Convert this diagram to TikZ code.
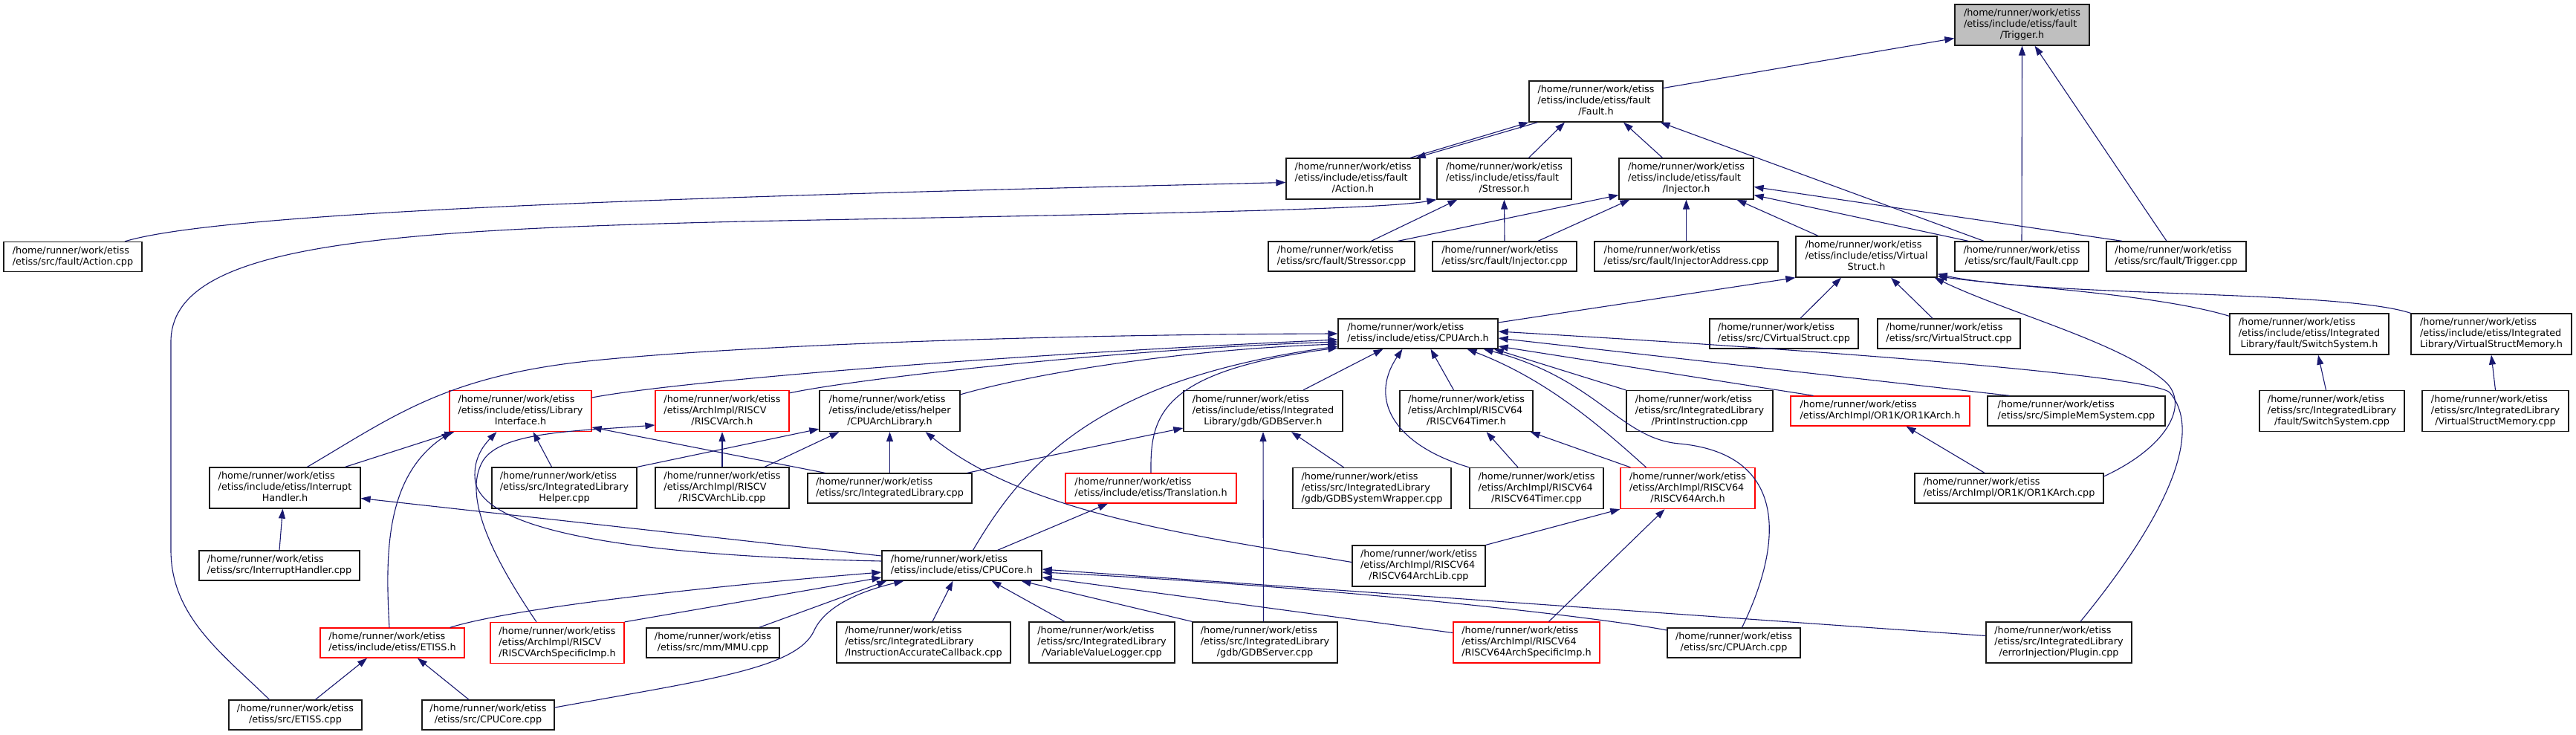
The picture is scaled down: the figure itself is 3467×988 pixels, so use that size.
\documentclass[tikz,border=0pt]{standalone}
\usepackage{fontspec}
\setmainfont{DejaVu Sans}
\usetikzlibrary{arrows.meta, positioning}
\definecolor{edgeblue}{HTML}{191970}
\definecolor{curgray}{HTML}{BFBFBF}
\newcommand{\twoline}[1]{\begin{tabular}{@{}l@{}}/home/runner/work/etiss\\\multicolumn{1}{@{}c@{}}{#1}\end{tabular}}
\newcommand{\threeline}[2]{\begin{tabular}{@{}l@{}}/home/runner/work/etiss\\#1\\\multicolumn{1}{@{}c@{}}{#2}\end{tabular}}

\begin{document}
\begin{tikzpicture}[x=1pt, y=-1pt,
  file/.style={draw=black!90, line width=1.3pt, fill=white, inner sep=0pt, font=\fontsize{12.8}{15}\selectfont},
  trunc/.style={file, draw=red},
  cur/.style={file, fill=curgray},
  sz/.style 2 args={minimum width=#1pt, minimum height=#2pt},
  dep/.style={draw=edgeblue, line width=1.1pt, -{Triangle[length=13pt, width=9pt]}}]
  \path[fill=white, use as bounding box] (0,0) rectangle (3467,988);
  % fault headers
  \node[cur, sz={181}{55}] (trig) at (2721.5,33.5) {\threeline{/etiss/include/etiss/fault}{/Trigger.h}};
  \node[file, sz={180}{55}] (fault) at (2148,136.5) {\threeline{/etiss/include/etiss/fault}{/Fault.h}};
  \node[file, sz={180}{55}] (action) at (1821,240.5) {\threeline{/etiss/include/etiss/fault}{/Action.h}};
  \node[file, sz={181}{55}] (stressor) at (2024.5,240.5) {\threeline{/etiss/include/etiss/fault}{/Stressor.h}};
  \node[file, sz={181}{55}] (injector) at (2269.5,240.5) {\threeline{/etiss/include/etiss/fault}{/Injector.h}};
  \node[file, sz={186}{40}] (actioncpp) at (98,345.5) {\twoline{/etiss/src/fault/Action.cpp}};
  \node[file, sz={197}{40}] (stressorcpp) at (1805.5,345) {\twoline{/etiss/src/fault/Stressor.cpp}};
  \node[file, sz={194}{40}] (injectorcpp) at (2025,345) {\twoline{/etiss/src/fault/Injector.cpp}};
  \node[file, sz={247}{40}] (injaddr) at (2269.5,345) {\twoline{/etiss/src/fault/InjectorAddress.cpp}};
  \node[file, sz={190}{55}] (vstruct) at (2512,345.5) {\threeline{/etiss/include/etiss/Virtual}{Struct.h}};
  \node[file, sz={180}{40}] (faultcpp) at (2721,345) {\twoline{/etiss/src/fault/Fault.cpp}};
  \node[file, sz={188}{40}] (trigcpp) at (2929,345) {\twoline{/etiss/src/fault/Trigger.cpp}};
  % arch and library headers
  \node[file, sz={215}{40}] (cpuarch) at (1908.5,449) {\twoline{/etiss/include/etiss/CPUArch.h}};
  \node[file, sz={200}{40}] (cvs) at (2401,449) {\twoline{/etiss/src/CVirtualStruct.cpp}};
  \node[file, sz={192}{40}] (vscpp) at (2623,449) {\twoline{/etiss/src/VirtualStruct.cpp}};
  \node[file, sz={214}{55}] (switchh) at (3108,449.5) {\threeline{/etiss/include/etiss/Integrated}{Library/fault/SwitchSystem.h}};
  \node[file, sz={216}{55}] (vsmem) at (3353,449.5) {\threeline{/etiss/include/etiss/Integrated}{Library/VirtualStructMemory.h}};
  \node[trunc, sz={191}{55}] (libif) at (700.5,553) {\threeline{/etiss/include/etiss/Library}{Interface.h}};
  \node[trunc, sz={180}{55}] (riscvarch) at (972,553) {\threeline{/etiss/ArchImpl/RISCV}{/RISCVArch.h}};
  \node[file, sz={189}{55}] (cpuarchlib) at (1197.5,553) {\threeline{/etiss/include/etiss/helper}{/CPUArchLibrary.h}};
  \node[file, sz={214}{55}] (gdbserverh) at (1700,553) {\threeline{/etiss/include/etiss/Integrated}{Library/gdb/GDBServer.h}};
  \node[file, sz={179}{55}] (rv64timer) at (1973.5,553) {\threeline{/etiss/ArchImpl/RISCV64}{/RISCV64Timer.h}};
  \node[file, sz={197}{55}] (printinst) at (2287.5,553) {\threeline{/etiss/src/IntegratedLibrary}{/PrintInstruction.cpp}};
  \node[trunc, sz={241}{40}] (or1karch) at (2530.5,553) {\twoline{/etiss/ArchImpl/OR1K/OR1KArch.h}};
  \node[file, sz={239}{40}] (simplemem) at (2794.5,553) {\twoline{/etiss/src/SimpleMemSystem.cpp}};
  \node[file, sz={195}{55}] (switchcpp) at (3138.5,553) {\threeline{/etiss/src/IntegratedLibrary}{/fault/SwitchSystem.cpp}};
  \node[file, sz={197}{55}] (vsmemcpp) at (3358.5,553) {\threeline{/etiss/src/IntegratedLibrary}{/VirtualStructMemory.cpp}};
  \node[file, sz={203}{55}] (inth) at (383.5,656.5) {\threeline{/etiss/include/etiss/Interrupt}{Handler.h}};
  \node[file, sz={195}{55}] (libhelper) at (759.5,656.5) {\threeline{/etiss/src/IntegratedLibrary}{Helper.cpp}};
  \node[file, sz={180}{55}] (rvarchlib) at (972,656.5) {\threeline{/etiss/ArchImpl/RISCV}{/RISCVArchLib.cpp}};
  \node[file, sz={221}{40}] (intlibcpp) at (1197.5,657) {\twoline{/etiss/src/IntegratedLibrary.cpp}};
  \node[trunc, sz={230}{40}] (translation) at (1549,657) {\twoline{/etiss/include/etiss/Translation.h}};
  \node[file, sz={213}{55}] (gdbsyswrap) at (1846.5,657) {\threeline{/etiss/src/IntegratedLibrary}{/gdb/GDBSystemWrapper.cpp}};
  \node[file, sz={180}{55}] (rv64timercpp) at (2068,657) {\threeline{/etiss/ArchImpl/RISCV64}{/RISCV64Timer.cpp}};
  \node[trunc, sz={181}{55}] (rv64arch) at (2271.5,657) {\threeline{/etiss/ArchImpl/RISCV64}{/RISCV64Arch.h}};
  \node[file, sz={254}{40}] (or1kcpp) at (2704,657) {\twoline{/etiss/ArchImpl/OR1K/OR1KArch.cpp}};
  % core and sources
  \node[file, sz={216}{40}] (inthcpp) at (376,761) {\twoline{/etiss/src/InterruptHandler.cpp}};
  \node[file, sz={215}{40}] (cpucore) at (1294.5,761) {\twoline{/etiss/include/etiss/CPUCore.h}};
  \node[file, sz={179}{55}] (rv64archlib) at (1909.5,761.5) {\threeline{/etiss/ArchImpl/RISCV64}{/RISCV64ArchLib.cpp}};
  \node[trunc, sz={194}{40}] (etissh) at (528,865) {\twoline{/etiss/include/etiss/ETISS.h}};
  \node[trunc, sz={180}{55}] (rvspec) at (750,865) {\threeline{/etiss/ArchImpl/RISCV}{/RISCVArchSpecificImp.h}};
  \node[file, sz={179}{40}] (mmu) at (959.5,865) {\twoline{/etiss/src/mm/MMU.cpp}};
  \node[file, sz={234}{55}] (iacb) at (1243,864.5) {\threeline{/etiss/src/IntegratedLibrary}{/InstructionAccurateCallback.cpp}};
  \node[file, sz={196}{55}] (vvl) at (1483,864.5) {\threeline{/etiss/src/IntegratedLibrary}{/VariableValueLogger.cpp}};
  \node[file, sz={195}{55}] (gdbservercpp) at (1702.5,864.5) {\threeline{/etiss/src/IntegratedLibrary}{/gdb/GDBServer.cpp}};
  \node[trunc, sz={197}{55}] (rv64spec) at (2054.5,864.5) {\threeline{/etiss/ArchImpl/RISCV64}{/RISCV64ArchSpecificImp.h}};
  \node[file, sz={179}{40}] (cpuarchcpp) at (2333.5,865) {\twoline{/etiss/src/CPUArch.cpp}};
  \node[file, sz={196}{55}] (plugin) at (2771,864.5) {\threeline{/etiss/src/IntegratedLibrary}{/errorInjection/Plugin.cpp}};
  \node[file, sz={179}{40}] (etisscpp) at (397.5,962) {\twoline{/etiss/src/ETISS.cpp}};
  \node[file, sz={178}{40}] (cpucorecpp) at (657,962) {\twoline{/etiss/src/CPUCore.cpp}};

  % includes of the fault headers
  \draw[dep] ([yshift=18]fault.east) -- ([yshift=-18]trig.west);
  \draw[dep] (faultcpp.north) -- (trig.south);
  \draw[dep] ([xshift=-13]trigcpp.north) -- ([xshift=17]trig.south);
  \draw[dep] ([xshift=77]action.north) -- (fault.south west);
  \draw[dep] ([xshift=12]fault.south west) -- ([xshift=-6]action.north east);
  \draw[dep] ([xshift=33]stressor.north) -- ([xshift=-42]fault.south);
  \draw[dep] ([xshift=-32]injector.north) -- ([xshift=37]fault.south);
  \draw[dep] ([xshift=-51]faultcpp.north) -- ([xshift=-4]fault.south east);
  \draw[dep] ([xshift=70]actioncpp.north) .. controls (300,285) and (900,265) .. ([yshift=-5]action.west);
  \draw[dep] ([xshift=40]stressorcpp.north) -- ([xshift=-63]stressor.south);
  \draw[dep] (injectorcpp.north) -- (stressor.south);
  \draw[dep] ([xshift=-35]etisscpp.north) .. controls (300,880) and (230,830) .. (230,740) -- (230,460)
    .. controls (230,330) and (500,310) .. (1000,298) .. controls (1500,288) and (1850,283) .. (stressor.south west);
  \draw[dep] ([xshift=76]stressorcpp.north) -- ([yshift=-22]injector.west);
  \draw[dep] ([xshift=45]injectorcpp.north) -- ([xshift=-76]injector.south);
  \draw[dep] (injaddr.north) -- (injector.south);
  \draw[dep] ([xshift=-65]vstruct.north) -- ([xshift=68]injector.south);
  \draw[dep] ([xshift=-72]faultcpp.north) -- ([yshift=-22]injector.east);
  \draw[dep] ([xshift=-73]trigcpp.north) -- ([yshift=-11]injector.east);

  % VirtualStruct.h
  \draw[dep] ([yshift=15]cpuarch.east) -- (vstruct.south west);
  \draw[dep] ([xshift=22]cvs.north) -- ([xshift=-34]vstruct.south);
  \draw[dep] ([xshift=-22]vscpp.north) -- ([xshift=33]vstruct.south);
  \draw[dep] ([yshift=16]or1kcpp.east) .. controls (2920,600) and (2950,540) .. (2910,510)
    .. controls (2850,460) and (2700,420) .. ([xshift=-4]vstruct.south east);
  \draw[dep] ([yshift=-4]switchh.north west) .. controls (2900,395) and (2700,385) .. ([yshift=2]vstruct.south east);
  \draw[dep] (vsmem.north west) .. controls (3150,390) and (2750,400) .. ([yshift=5]vstruct.south east);
  \draw[dep] ([xshift=-8]switchcpp.north) -- ([xshift=12]switchh.south);
  \draw[dep] (vsmemcpp.north) -- (vsmem.south);

  % CPUArch.h
  \draw[dep] ([xshift=30]inth.north) .. controls (530,560) and (600,505) .. (800,485)
    .. controls (1000,465) and (1400,450) .. (cpuarch.west);
  \draw[dep] ([yshift=18]libif.east) .. controls (900,515) and (1300,480) .. ([yshift=-8]cpuarch.west);
  \draw[dep] ([yshift=-4]riscvarch.north east) .. controls (1150,510) and (1500,470) .. ([yshift=-11]cpuarch.west);
  \draw[dep] ([yshift=-6]cpuarchlib.north east) .. controls (1400,500) and (1600,470) .. ([yshift=-14]cpuarch.west);
  \draw[dep] ([xshift=15]cpucore.north) .. controls (1380,620) and (1480,510) .. ([yshift=-17]cpuarch.west);
  \draw[dep] (translation.north) .. controls (1548,560) and (1560,500) .. ([yshift=-19]cpuarch.west);
  \draw[dep] ([xshift=54]gdbserverh.north) -- ([xshift=-47]cpuarch.south);
  \draw[dep] (rv64timercpp.north west) .. controls (1880,600) and (1840,540) .. ([xshift=-21]cpuarch.south);
  \draw[dep] ([xshift=-17]rv64timer.north) -- ([xshift=17]cpuarch.south);
  \draw[dep] ([xshift=-56]rv64arch.north) .. controls (2150,570) and (2080,510) .. ([xshift=66]cpuarch.south);
  \draw[dep] ([xshift=11]cpuarchcpp.north) .. controls (2405,720) and (2400,610) .. (2260,597)
    .. controls (2180,590) and (2150,510) .. ([xshift=88]cpuarch.south);
  \draw[dep] (printinst.north west) -- ([xshift=-6]cpuarch.south east);
  \draw[dep] ([xshift=-90]or1karch.north) -- ([yshift=-17]cpuarch.east);
  \draw[dep] ([xshift=-90]simplemem.north) -- ([yshift=-6]cpuarch.east);
  \draw[dep] ([xshift=29]plugin.north) .. controls (2920,690) and (2965,580) .. (2920,528)
    .. controls (2900,510) and (2600,480) .. ([yshift=3]cpuarch.east);

  % LibraryInterface.h and RISCVArch.h
  \draw[dep] ([xshift=81]inth.north) -- ([xshift=7]libif.south west);
  \draw[dep] ([xshift=-17]libhelper.north) -- ([xshift=17]libif.south);
  \draw[dep] ([xshift=-87]intlibcpp.north) -- ([yshift=-22]libif.east);
  \draw[dep] ([xshift=-4]etissh.north) .. controls (518,740) and (520,640) .. ([xshift=3]libif.south west);
  \draw[dep] ([yshift=6]cpucore.west) .. controls (950,750) and (660,730) .. (640,650)
    .. controls (635,620) and (650,600) .. ([xshift=-32]libif.south);
  \draw[dep] (rvarchlib.north) -- (riscvarch.south);
  \draw[dep] ([xshift=-28]rvspec.north) .. controls (670,760) and (620,670) .. (650,620)
    .. controls (675,580) and (780,580) .. ([yshift=-19]riscvarch.west);

  % CPUArchLibrary.h and GDBServer.h
  \draw[dep] (libhelper.north east) -- ([yshift=4]cpuarchlib.south west);
  \draw[dep] ([xshift=57]rvarchlib.north) -- ([xshift=-68]cpuarchlib.south);
  \draw[dep] (intlibcpp.north) -- (cpuarchlib.south);
  \draw[dep] ([yshift=5]rv64archlib.west) .. controls (1600,720) and (1380,690) .. ([xshift=48]cpuarchlib.south);
  \draw[dep] ([xshift=-7]intlibcpp.north east) -- ([yshift=-23]gdbserverh.west);
  \draw[dep] ([xshift=-38]gdbsyswrap.north) -- ([xshift=38]gdbserverh.south);
  \draw[dep] ([xshift=-2]gdbservercpp.north) -- (gdbserverh.south);

  % RISCV64 and OR1K
  \draw[dep] ([xshift=-25]rv64timercpp.north) -- ([xshift=27]rv64timer.south);
  \draw[dep] ([xshift=14]rv64arch.north west) -- ([xshift=-4]rv64timer.south east);
  \draw[dep] (rv64archlib.north east) -- (rv64arch.south west);
  \draw[dep] ([xshift=30]rv64spec.north) -- ([xshift=-31]rv64arch.south);
  \draw[dep] ([xshift=-33]or1kcpp.north) -- ([xshift=35]or1karch.south);

  % InterruptHandler.h, Translation.h
  \draw[dep] (inthcpp.north) -- ([xshift=-3]inth.south);
  \draw[dep] ([yshift=13]cpucore.west) -- ([yshift=-14]inth.east);
  \draw[dep] ([xshift=48]cpucore.north) -- ([xshift=-58]translation.south);

  % CPUCore.h
  \draw[dep] ([xshift=-20]etissh.north east) .. controls (700,815) and (1000,785) .. ([yshift=-9]cpucore.west);
  \draw[dep] (rvspec.north east) -- ([yshift=-16]cpucore.west);
  \draw[dep] ([xshift=62]mmu.north) -- ([xshift=7]cpucore.south west);
  \draw[dep] ([yshift=10]cpucorecpp.east) .. controls (950,915) and (1070,900) .. (1095,850)
    .. controls (1110,815) and (1160,795) .. ([xshift=30]cpucore.south west);
  \draw[dep] ([xshift=12]iacb.north) -- ([xshift=-12]cpucore.south);
  \draw[dep] ([xshift=-50]vvl.north) -- ([xshift=40]cpucore.south);
  \draw[dep] (gdbservercpp.north west) -- ([xshift=80]cpucore.south);
  \draw[dep] ([yshift=13]rv64spec.west) -- ([yshift=-16]cpucore.east);
  \draw[dep] ([yshift=17]cpuarchcpp.west) .. controls (2150,830) and (1800,790) .. ([yshift=-9]cpucore.east);
  \draw[dep] ([yshift=9]plugin.west) -- ([yshift=-5]cpucore.east);

  % ETISS.h
  \draw[dep] ([xshift=27]etisscpp.north) -- ([xshift=-34]etissh.south);
  \draw[dep] ([xshift=-26]cpucorecpp.north) -- ([xshift=34]etissh.south);
\end{tikzpicture}
\end{document}
